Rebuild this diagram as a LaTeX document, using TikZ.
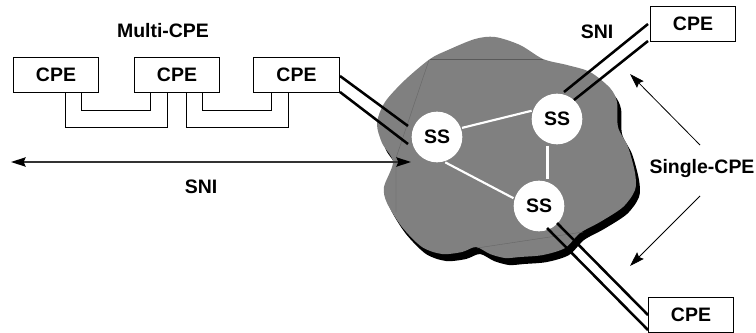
\documentclass[tikz,border=0pt]{standalone}
\usepackage{fontspec}
\setmainfont{Liberation Sans}
\usetikzlibrary{arrows.meta}
\tikzset{
  x=0.75pt,y=-0.75pt,
  lbl/.style={font=\fontsize{14.6pt}{16pt}\selectfont\bfseries,inner sep=0pt},
  cpebox/.style={draw=black,line width=0.75pt,fill=white,minimum width=63.8pt,minimum height=25.6pt,inner sep=0pt,font=\fontsize{14.6pt}{16pt}\selectfont\bfseries},
  ssnode/.style={circle,fill=white,minimum size=38pt,inner sep=0pt,outer sep=1pt,font=\fontsize{14.6pt}{16pt}\selectfont\bfseries},
  wire/.style={draw=black,line width=0.75pt},
  trunk/.style={draw=black,line width=1.9pt},
  link/.style={draw=white,line width=1.6pt},
  note/.style={draw=black,line width=0.6pt,-{Stealth[length=11pt,width=7pt,inset=1.5pt]}},
  span/.style={draw=black!80,line width=1pt,{Stealth[length=11pt,width=7pt,inset=1.5pt,black]}-{Stealth[length=11pt,width=7pt,inset=1.5pt,black]}},
  seam/.style={line width=0.3pt}
}
\def\cloudpath{plot[smooth cycle,tension=0.5] coordinates {(430,59) (448,50) (475,39) (495,37) (520,45) (543,59) (567,65) (590,72) (610,88) (617,102) (618,127) (628,147) (635,173) (635,190) (623,207) (600,222) (580,233) (565,248) (543,255) (520,257) (505,258) (490,254) (476,247) (462,252) (442,254) (422,247) (402,227) (387,203) (384,187) (393,162) (382,143) (377,123) (385,102) (405,80)}}
\begin{document}
\begin{tikzpicture}
\useasboundingbox (0,0) rectangle (756,332);
\fill[black,shift={(4,7)}] \cloudpath;
\fill[black!50] \cloudpath;
\draw[seam,black!65] (430,59) -- (543,59);
\draw[seam,black!60] (429,60) -- (396,158) -- (396,212);
\draw[seam,black!60] (477,248) -- (583,232);
\node[cpebox] (cpeA) at (56,75) {CPE};
\node[cpebox] (cpeB) at (177,75) {CPE};
\node[cpebox] (cpeC) at (296.5,75) {CPE};
\node[cpebox] (cpeT) at (693,24) {CPE};
\node[cpebox] (cpeL) at (691,315) {CPE};
\node[ssnode] (ssA) at (437,137) {SS};
\node[ssnode] (ssB) at (557,119) {SS};
\node[ssnode] (ssC) at (539,206) {SS};
\draw[link] (ssA.20) -- (ssB.162);
\draw[link] (ssA.-72) -- (ssC.163);
\draw[link] (ssB.south -| 547.5,0) -- (ssC.north -| 547.5,0);
\coordinate (a1) at (65,92);  \coordinate (a2) at (81.5,92);
\coordinate (b1) at (150,92); \coordinate (b2) at (167,92);
\coordinate (b3) at (186,92); \coordinate (b4) at (202.5,92);
\coordinate (c1) at (271,92); \coordinate (c2) at (288,92);
\draw[wire] (a1) -- (65,127) -- (167,127) -- (b2);
\draw[wire] (a2) -- (81.5,110) -- (150,110) -- (b1);
\draw[wire] (b3) -- (186,127) -- (288,127) -- (c2);
\draw[wire] (b4) -- (202.5,110) -- (271,110) -- (c1);
\coordinate (c3) at (340,76);   \coordinate (s1) at (408,126);
\coordinate (c4) at (340,92);   \coordinate (s2) at (408,144);
\coordinate (t1) at (648,24);   \coordinate (s3) at (564,92);
\coordinate (t2) at (648,41);   \coordinate (s4) at (574,100);
\coordinate (s5) at (547,228);  \coordinate (l1) at (648,330);
\coordinate (s6) at (557,223);  \coordinate (l2) at (648,315);
\draw[trunk] (c3) -- (s1);
\draw[trunk] (c4) -- (s2);
\draw[trunk] (t1) -- (s3);
\draw[trunk] (t2) -- (s4);
\draw[trunk] (s5) -- (l1);
\draw[trunk] (s6) -- (l2);
\coordinate (sl) at (11,162);   \coordinate (sr) at (411,162);
\draw[span] (sl) -- (sr);
\coordinate (n0) at (700,145);  \coordinate (n1) at (630,74);
\coordinate (n2) at (700,196);  \coordinate (n3) at (630,266);
\draw[note] (n0) -- (n1);
\draw[note] (n2) -- (n3);
\node[lbl] (mc) at (163,31) {Multi-CPE};
\node[lbl] (sa) at (201,187) {SNI};
\node[lbl] (sb) at (597,32) {SNI};
\node[lbl] (sc) at (702,169) {Single-CPE};
\end{tikzpicture}
\end{document}
